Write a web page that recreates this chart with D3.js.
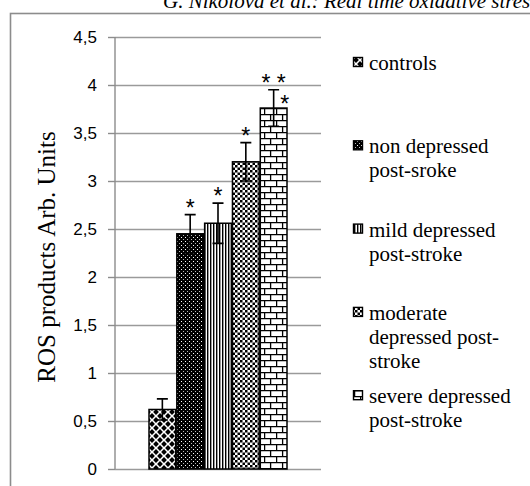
<!DOCTYPE html>
<html>
<head>
<meta charset="utf-8">
<script src="https://cdn.jsdelivr.net/npm/d3@7"></script>
<style>
  html, body { margin: 0; padding: 0; background: #fff; }
  svg { display: block; }
</style>
</head>
<body>
<svg id="chart" width="530" height="486"></svg>
<script>
// ---- data ----
const seriesNames = ["controls", "non depressed post-sroke", "mild depressed post-stroke", "moderate depressed post-stroke", "severe depressed post-stroke"];
const legendLines = [["controls"], ["non depressed", "post-sroke"], ["mild depressed", "post-stroke"], ["moderate", "depressed post-", "stroke"], ["severe depressed", "post-stroke"]];
const values = [0.62, 2.45, 2.56, 3.2, 3.76];
const errors = [0.11, 0.2, 0.21, 0.2, 0.19];
const marks = ["", "*", "*", "*", "* *"];
const sideMarks = ["", "", "", "", "*"];
const yTicks = [0, 0.5, 1, 1.5, 2, 2.5, 3, 3.5, 4, 4.5];
const yTitle = "ROS products Arb. Units";
const headerText = "G. Nikolova et al.: Real time oxidative stress";

const SERIF = "'Liberation Serif', 'Times New Roman', Times, serif";
const SANS = "'Liberation Sans', Arial, sans-serif";

// ---- layout ----
const svg = d3.select("#chart");
const plotLeft = 115, plotRight = 321, plotTop = 37, plotBottom = 469;
const y = d3.scaleLinear().domain([0, 4.5]).range([plotBottom, plotTop]);
const x = d3.scaleBand().domain(seriesNames).range([149, 287]).paddingInner(0.04);

// header (cut off at top, as in the source page)
svg.append("text").attr("x", 163).attr("y", 8)
  .style("font-family", SERIF).style("font-style", "italic").style("font-size", "21px")
  .attr("fill", "#000")
  .text(headerText);

// chart border
svg.append("rect").attr("x", 10.5).attr("y", 13.5).attr("width", 560).attr("height", 520)
  .attr("fill", "none").attr("stroke", "#8c8c8c").attr("stroke-width", 1.6);

// patterns
const defs = svg.append("defs");
function pat(id, w, h) {
  return defs.append("pattern").attr("id", id).attr("patternUnits", "userSpaceOnUse")
    .attr("width", w).attr("height", h);
}
// diamonds
let p = pat("p0", 8, 8);
p.append("rect").attr("width", 8).attr("height", 8).attr("fill", "#fff");
[[4, 4], [0, 0], [8, 0], [0, 8], [8, 8]].forEach(([cx, cy]) => {
  const r = 2.9;
  p.append("path").attr("d", `M${cx},${cy - r}L${cx + r},${cy}L${cx},${cy + r}L${cx - r},${cy}Z`).attr("fill", "#000");
});
// dark with white dots
p = pat("p1", 4, 4);
p.append("rect").attr("width", 4).attr("height", 4).attr("fill", "#000");
p.append("rect").attr("x", 1).attr("y", 1).attr("width", 1).attr("height", 1).attr("fill", "#fff");
p.append("rect").attr("x", 3).attr("y", 3).attr("width", 1).attr("height", 1).attr("fill", "#bbb");
// vertical lines
p = pat("p2", 3, 4);
p.append("rect").attr("width", 3).attr("height", 4).attr("fill", "#fff");
p.append("rect").attr("x", 0).attr("width", 1.4).attr("height", 4).attr("fill", "#000");
// small checker
p = pat("p3", 5, 5);
p.append("rect").attr("width", 5).attr("height", 5).attr("fill", "#fff");
p.append("rect").attr("width", 2.5).attr("height", 2.5).attr("fill", "#000");
p.append("rect").attr("x", 2.5).attr("y", 2.5).attr("width", 2.5).attr("height", 2.5).attr("fill", "#000");
// bricks
p = pat("p4", 12, 12);
p.append("rect").attr("width", 12).attr("height", 12).attr("fill", "#fff");
p.append("path").attr("d", "M0,0.6H12M0,6.6H12M0.6,0V6.6M6.6,6.6V12")
  .attr("stroke", "#000").attr("stroke-width", 1.3).attr("fill", "none");

// gridlines
const grid = svg.append("g")
  .attr("transform", `translate(${plotLeft},0)`)
  .call(d3.axisLeft(y).tickValues(yTicks).tickSize(-(plotRight - plotLeft)).tickFormat(""));
grid.select(".domain").remove();
grid.selectAll(".tick line").attr("stroke", "#9a9a9a").attr("stroke-width", 1.4);

// y axis with ticks
const yAxis = svg.append("g")
  .attr("transform", `translate(${plotLeft},0)`)
  .call(d3.axisLeft(y).tickValues(yTicks).tickSize(7).tickPadding(11)
    .tickFormat(d => String(d).replace(".", ",")));
yAxis.attr("font-family", null).attr("font-size", null);
yAxis.select(".domain").attr("stroke", "#8c8c8c").attr("stroke-width", 1.4)
  .attr("d", `M0,${plotBottom}V${plotTop}`);
yAxis.selectAll(".tick line").attr("stroke", "#8c8c8c").attr("stroke-width", 1.4);
yAxis.selectAll(".tick text")
  .style("font-family", SANS).style("font-size", "17px").attr("fill", "#000");

// y title
svg.append("text")
  .attr("transform", `translate(55,257) rotate(-90)`)
  .attr("text-anchor", "middle")
  .style("font-family", SERIF).style("font-size", "25px").attr("fill", "#000")
  .text(yTitle);

// bars
const bars = svg.append("g");
seriesNames.forEach((s, i) => {
  bars.append("rect")
    .attr("x", x(s)).attr("y", y(values[i]))
    .attr("width", x.bandwidth()).attr("height", y(0) - y(values[i]))
    .attr("fill", `url(#p${i})`).attr("stroke", "#000").attr("stroke-width", 1.5);
});

// error bars
const eb = svg.append("g").attr("stroke", "#000").attr("stroke-width", 1.6).attr("fill", "none");
seriesNames.forEach((s, i) => {
  const cx = x(s) + x.bandwidth() / 2;
  const top = y(values[i] + errors[i]), bot = y(values[i] - errors[i]);
  eb.append("path").attr("d", `M${cx},${top}V${bot}M${cx - 5.5},${top}H${cx + 5.5}M${cx - 5.5},${bot}H${cx + 5.5}`);
});

// significance marks
const mk = svg.append("g").attr("fill", "#000").attr("text-anchor", "middle");
seriesNames.forEach((s, i) => {
  const cx = x(s) + x.bandwidth() / 2;
  const top = y(values[i] + errors[i]);
  if (marks[i]) mk.append("text").attr("x", cx).attr("y", top + 1)
    .style("font-family", SANS).style("font-size", "23px").text(marks[i]);
  if (sideMarks[i]) mk.append("text").attr("x", cx + 11).attr("y", top + 22)
    .style("font-family", SANS).style("font-size", "23px").text(sideMarks[i]);
});

// legend
const lg = svg.append("g");
legendLines.forEach((lines, i) => {
  const base = 70 + i * 83.3;
  lg.append("rect").attr("x", 353.5).attr("y", base - 12.5).attr("width", 9).attr("height", 9)
    .attr("fill", `url(#p${i})`).attr("stroke", "#000").attr("stroke-width", 1.4);
  lines.forEach((t, j) => {
    lg.append("text").attr("x", 369).attr("y", base + j * 24)
      .style("font-family", SERIF).style("font-size", "21px").attr("fill", "#000")
      .text(t);
  });
});
</script>
</body>
</html>
